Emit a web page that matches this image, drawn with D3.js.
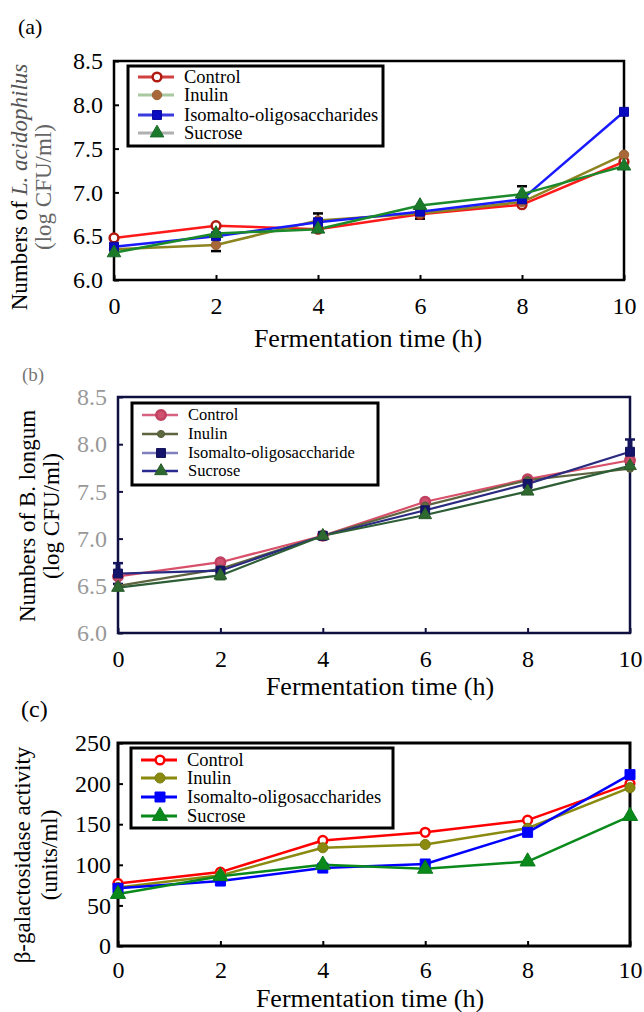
<!DOCTYPE html>
<html>
<head>
<meta charset="utf-8">
<script src="https://cdn.jsdelivr.net/npm/d3@7"></script>
<style>
  body { margin: 0; background: #fff; }
  svg text { font-family: "Liberation Serif", "Times New Roman", Times, "DejaVu Serif", serif; }
</style>
</head>
<body>
<svg id="chart" width="644" height="1012" font-family="Liberation Serif, serif"></svg>
<script>
// fermentation time (h)
let hours = [0, 2, 4, 6, 8, 10];
let seriesNames = ["Control", "Inulin", "Isomalto-oligosaccharides", "Sucrose"];

// (a) L. acidophilus (log CFU/ml)
let acidoControl = [6.48, 6.62, 6.58, 6.75, 6.86, 7.35];
let acidoInulin  = [6.35, 6.40, 6.68, 6.76, 6.89, 7.43];
let acidoIMO     = [6.38, 6.50, 6.66, 6.78, 6.92, 7.92];
let acidoSucrose = [6.31, 6.53, 6.58, 6.85, 6.98, 7.30];
let acidoErrControl = [0, 0, 0, 0.05, 0, 0];
let acidoErrInulin  = [0, 0.07, 0.08, 0, 0, 0];
let acidoErrIMO     = [0, 0, 0, 0, 0, 0];
let acidoErrSucrose = [0, 0, 0, 0, 0.09, 0];

// (b) B. longum (log CFU/ml)
let longumControl = [6.60, 6.75, 7.03, 7.39, 7.63, 7.83];
let longumInulin  = [6.50, 6.68, 7.03, 7.35, 7.62, 7.74];
let longumIMO     = [6.63, 6.66, 7.03, 7.30, 7.58, 7.92];
let longumSucrose = [6.48, 6.61, 7.03, 7.25, 7.50, 7.77];
let longumErrControl = [0, 0, 0, 0, 0, 0];
let longumErrInulin  = [0, 0, 0, 0, 0, 0];
let longumErrIMO     = [0.11, 0, 0, 0, 0, 0.13];
let longumErrSucrose = [0, 0.04, 0, 0, 0, 0];

// (c) beta-galactosidase activity (units/ml)
let galControl = [77, 91, 130, 140, 155, 200];
let galInulin  = [72, 87, 121, 125, 145, 195];
let galIMO     = [71, 80, 96, 101, 140, 211];
let galSucrose = [64, 86, 100, 95, 104, 160];

let logTicks = [6.0, 6.5, 7.0, 7.5, 8.0, 8.5];
let galTicks = [0, 50, 100, 150, 200, 250];

let serif = "Liberation Serif, Times New Roman, DejaVu Serif, serif";
let svg = d3.select("#chart");

let shapes = [d3.symbolCircle, d3.symbolCircle, d3.symbolSquare, d3.symbolTriangle];

function drawPanel(p) {
  let x = d3.scaleLinear().domain([0, 10]).range([p.left, p.right]);
  let y = d3.scaleLinear().domain([p.yTicks[0], p.yTicks[p.yTicks.length - 1]]).range([p.bottom, p.top]);
  let g = svg.append("g").attr("font-family", serif);

  // panel letter
  g.append("text")
    .attr("x", p.letterX).attr("y", p.letterY)
    .attr("font-size", p.letterSize)
    .attr("fill", p.letterColor)
    .text(p.letter);

  // axes (ticks point inward)
  let xAxis = g.append("g")
    .attr("transform", `translate(0,${p.bottom})`)
    .call(d3.axisBottom(x).tickValues(hours).tickSize(-5).tickPadding(p.xPad));
  let yAxis = g.append("g")
    .attr("transform", `translate(${p.left},0)`)
    .call(d3.axisLeft(y).tickValues(p.yTicks).tickSize(-5).tickPadding(p.yPad).tickFormat(p.fmt));

  xAxis.attr("font-family", serif);
  yAxis.attr("font-family", serif);
  xAxis.select(".domain").remove();
  yAxis.select(".domain").remove();
  xAxis.selectAll("line").attr("stroke", p.frameColor).attr("stroke-width", 2);
  yAxis.selectAll("line").attr("stroke", p.frameColor).attr("stroke-width", 2);
  xAxis.selectAll("text").attr("font-size", 24).attr("fill", "#000");
  yAxis.selectAll("text").attr("font-size", 24).attr("fill", p.yTickColor);

  // frame
  g.append("rect")
    .attr("x", p.left).attr("y", p.top)
    .attr("width", p.right - p.left).attr("height", p.bottom - p.top)
    .attr("fill", "none")
    .attr("stroke", p.frameColor)
    .attr("stroke-width", p.frameWidth);

  // x title
  g.append("text")
    .attr("x", p.xTitleX).attr("y", p.xTitleY)
    .attr("text-anchor", "middle")
    .attr("font-size", 26)
    .text("Fermentation time (h)");

  // y title, two lines
  let t1 = g.append("text")
    .attr("transform", `translate(${p.yTitleX1},${p.yTitleCy}) rotate(-90)`)
    .attr("text-anchor", "middle")
    .attr("font-size", 23);
  p.yTitle1.forEach(part => {
    t1.append("tspan")
      .attr("font-style", part.italic ? "italic" : null)
      .attr("fill", part.color || "#000")
      .text(part.t);
  });
  g.append("text")
    .attr("transform", `translate(${p.yTitleX2},${p.yTitleCy}) rotate(-90)`)
    .attr("text-anchor", "middle")
    .attr("font-size", 23)
    .attr("fill", p.yTitle2Color)
    .text(p.yTitle2);

  let line = d3.line()
    .x((d, i) => x(hours[i]))
    .y(d => y(d));

  // error bars
  p.series.forEach((s, k) => {
    s.err.forEach((e, i) => {
      if (!e) return;
      let cx = x(hours[i]);
      let y1 = y(s.values[i] - e), y2 = y(s.values[i] + e);
      g.append("line").attr("x1", cx).attr("x2", cx).attr("y1", y1).attr("y2", y2)
        .attr("stroke", p.errColor[k]).attr("stroke-width", p.errWidth);
      [y1, y2].forEach(yy => {
        g.append("line").attr("x1", cx - 5).attr("x2", cx + 5).attr("y1", yy).attr("y2", yy)
          .attr("stroke", p.errColor[k]).attr("stroke-width", 2.5);
      });
    });
  });

  // series lines
  p.series.forEach((s, k) => {
    g.append("path")
      .datum(s.values)
      .attr("d", line)
      .attr("fill", "none")
      .attr("stroke", p.lineColor[k])
      .attr("stroke-width", p.lineWidth)
      .attr("stroke-linejoin", "round");
  });

  // markers
  p.series.forEach((s, k) => {
    g.append("g").selectAll("path")
      .data(s.values)
      .enter()
      .append("path")
      .attr("transform", (d, i) => `translate(${x(hours[i])},${y(d)})`)
      .attr("d", d3.symbol().type(shapes[k]).size(p.markSize[k]))
      .attr("fill", p.markFill[k])
      .attr("stroke", p.markColor[k])
      .attr("stroke-width", k === 0 ? 2.5 : 1);
  });

  // legend
  let lg = g.append("g");
  lg.append("rect")
    .attr("x", p.legend.x).attr("y", p.legend.y)
    .attr("width", p.legend.w).attr("height", p.legend.h)
    .attr("fill", "#fff")
    .attr("stroke", "#000")
    .attr("stroke-width", 3);
  p.series.forEach((s, k) => {
    let ry = p.legend.rows[k];
    lg.append("line")
      .attr("x1", p.legend.x + 10).attr("x2", p.legend.x + 46)
      .attr("y1", ry).attr("y2", ry)
      .attr("stroke", p.legendLine[k])
      .attr("stroke-width", p.lineWidth + 0.5);
    lg.append("path")
      .attr("transform", `translate(${p.legend.x + 29},${ry})`)
      .attr("d", d3.symbol().type(shapes[k]).size(p.markSize[k]))
      .attr("fill", p.markFill[k])
      .attr("stroke", p.markColor[k])
      .attr("stroke-width", k === 0 ? 2.5 : 1);
    lg.append("text")
      .attr("x", p.legend.x + 56).attr("y", ry)
      .attr("dy", "0.33em")
      .attr("font-size", p.legend.font)
      .text(p.legendNames[k]);
  });
}

// (a)
drawPanel({
  letter: "(a)", letterX: 18, letterY: 34, letterSize: 22, letterColor: "#000",
  left: 114, right: 624, top: 61, bottom: 280,
  yTicks: logTicks, fmt: d3.format(".1f"), yPad: 11, xPad: 17, yTickColor: "#000",
  frameColor: "#000", frameWidth: 2.5,
  xTitleX: 368, xTitleY: 347,
  yTitle1: [{t: "Numbers of "}, {t: "L. acidophilus", italic: true, color: "#555"}],
  yTitle2: "(log CFU/ml)", yTitle2Color: "#666",
  yTitleX1: 27, yTitleX2: 51, yTitleCy: 187,
  series: [
    {values: acidoControl, err: acidoErrControl},
    {values: acidoInulin, err: acidoErrInulin},
    {values: acidoIMO, err: acidoErrIMO},
    {values: acidoSucrose, err: acidoErrSucrose}
  ],
  lineColor: ["#ff1a1a", "#8c8420", "#1a1aff", "#1a8a2a"],
  legendLine: ["#d04040", "#a8c8a0", "#3a3ae0", "#b0b0b0"],
  markColor: ["#b01a10", "#9a6030", "#0a0aa0", "#1a6a2a"],
  markFill: ["#fff", "#a8683a", "#0a0ac0", "#1a7a2a"],
  markSize: [60, 70, 80, 80],
  errColor: ["#000", "#000", "#000", "#000"], errWidth: 2,
  lineWidth: 2.5,
  legendNames: seriesNames,
  legend: {x: 128, y: 66, w: 255, h: 80, rows: [77, 95, 115, 133], font: 18.5}
});

// (b)
drawPanel({
  letter: "(b)", letterX: 22, letterY: 381, letterSize: 19, letterColor: "#777",
  left: 118, right: 630, top: 397, bottom: 633,
  yTicks: logTicks, fmt: d3.format(".1f"), yPad: 11, xPad: 17, yTickColor: "#999",
  frameColor: "#101040", frameWidth: 2.5,
  xTitleX: 380, xTitleY: 695,
  yTitle1: [{t: "Numbers of B. longum"}],
  yTitle2: "(log CFU/ml)", yTitle2Color: "#000",
  yTitleX1: 35, yTitleX2: 59, yTitleCy: 516,
  series: [
    {values: longumControl, err: longumErrControl},
    {values: longumInulin, err: longumErrInulin},
    {values: longumIMO, err: longumErrIMO},
    {values: longumSucrose, err: longumErrSucrose}
  ],
  lineColor: ["#d8506a", "#5e6440", "#2a2a80", "#2e5e36"],
  legendLine: ["#d86080", "#5e6440", "#8080c0", "#2a2a90"],
  markColor: ["#c04060", "#505a38", "#14145a", "#2a5a2a"],
  markFill: ["#d05070", "#606a40", "#14146a", "#2e6a30"],
  markSize: [70, 40, 80, 70],
  errColor: ["#14145a", "#14145a", "#14145a", "#2a5a2a"], errWidth: 5,
  lineWidth: 2.2,
  legendNames: ["Control", "Inulin", "Isomalto-oligosaccharide", "Sucrose"],
  legend: {x: 132, y: 403, w: 246, h: 82, rows: [415, 434, 453, 471], font: 16.5}
});

// (c)
drawPanel({
  letter: "(c)", letterX: 21, letterY: 717, letterSize: 24, letterColor: "#000",
  left: 118, right: 630, top: 743, bottom: 946,
  yTicks: galTicks, fmt: d3.format("d"), yPad: 7, xPad: 15, yTickColor: "#000",
  frameColor: "#000", frameWidth: 3,
  xTitleX: 370, xTitleY: 1007,
  yTitle1: [{t: "\u03b2-galactosidase activity"}],
  yTitle2: "(units/ml)", yTitle2Color: "#000",
  yTitleX1: 30, yTitleX2: 57, yTitleCy: 855,
  series: [
    {values: galControl, err: [0, 0, 0, 0, 0, 0]},
    {values: galInulin, err: [0, 0, 0, 0, 0, 0]},
    {values: galIMO, err: [0, 0, 0, 0, 0, 0]},
    {values: galSucrose, err: [0, 0, 0, 0, 0, 0]}
  ],
  lineColor: ["#ff0000", "#8a8a10", "#0000ff", "#0a8a1a"],
  legendLine: ["#ff0000", "#8a8a10", "#0000ff", "#0a8a1a"],
  markColor: ["#ff0000", "#7a7a10", "#0000ff", "#0a7a1a"],
  markFill: ["#fff", "#8a8a10", "#0000ff", "#0a8a1a"],
  markSize: [60, 80, 100, 100],
  errColor: ["#000", "#000", "#000", "#000"], errWidth: 2,
  lineWidth: 2.5,
  legendNames: seriesNames,
  legend: {x: 131, y: 748, w: 262, h: 80, rows: [760, 778, 797, 816], font: 18.5}
});
</script>
</body>
</html>
